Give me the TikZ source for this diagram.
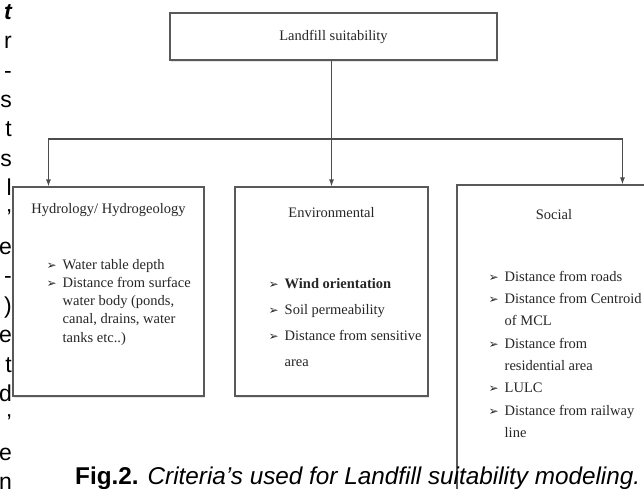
\documentclass[tikz,border=0pt]{standalone}
\usepackage{fontspec}
\setmainfont{Liberation Serif}
\newfontfamily\capfont{Liberation Sans}
\newfontfamily\symfont{DejaVu Sans}
\usetikzlibrary{arrows.meta,positioning,shadows}

\tikzset{
  box/.style={draw=black!65, line width=1.1pt, fill=white, inner sep=0pt,
              drop shadow={opacity=0.2, shadow xshift=1pt, shadow yshift=-1.5pt}},
  boxtext/.style={font=\fontsize{14.5}{20.5}\selectfont, text=black!85, inner sep=0pt},
  listtext/.style={font=\fontsize{14.5}{#1}\selectfont, text=black!85, inner sep=0pt, anchor=north west},
  arr/.style={draw=black!70, line width=1.1pt, -{Latex[length=7pt,width=5pt]}},
  sidetext/.style={font=\capfont\fontsize{23}{23}\selectfont, anchor=mid east, inner sep=0pt}
}
\newcommand{\bul}{{\symfont\fontsize{12}{12}\selectfont ➢}}

\begin{document}
\begin{tikzpicture}[x=1pt, y=-1pt]
  \clip (0,0) rectangle (644,488);
  \fill[white] (0,0) rectangle (644,488);

  % cut-off text of the page column on the left
  \node[sidetext] (s0) at (12,17) {\bfseries\itshape t};
  \foreach \c [count=\i] in {r,-,s,t,s,l,’,e,-,),e,t,d,’,e,n}
    \node[sidetext] (s\i) at (12,17+\i*29.4) {\c};

  % boxes
  \node[box, boxtext, minimum width=327pt, minimum height=47pt] (top) at (333.5,36.5) {Landfill suitability};
  \node[box, minimum width=191pt, minimum height=209pt] (hydro) at (108.5,291.5) {};
  \node[box, minimum width=193pt, minimum height=209pt] (env) at (331.5,291.5) {};
  \node[box, minimum width=260pt, minimum height=380pt] (social) at (587,375) {};

  % headings
  \node[boxtext, below=17pt of hydro.north] (hydrohead) {Hydrology/ Hydrogeology};
  \node[boxtext, below=21pt of env.north] (envhead) {Environmental};
  \node[boxtext] (sochead) at (554,215) {Social};

  % criteria lists
  \node[listtext=18.2] (hydrolist) at ([xshift=34pt, yshift=-70pt]hydro.north west) {%
    \begin{tabular}{@{}l@{\hspace{6pt}}l@{}}
      \bul & Water table depth\\
      \bul & Distance from surface\\
           & water body (ponds,\\
           & canal, drains, water\\
           & tanks etc..)
    \end{tabular}};
  \node[listtext=26] (envlist) at ([xshift=34pt, yshift=-84pt]env.north west) {%
    \begin{tabular}{@{}l@{\hspace{6pt}}l@{}}
      \bul & \textbf{Wind orientation}\\
      \bul & Soil permeability\\
      \bul & Distance from sensitive\\
           & area
    \end{tabular}};
  \node[listtext=22.3] (soclist) at ([xshift=32pt, yshift=-81pt]social.north west) {%
    \begin{tabular}{@{}l@{\hspace{6pt}}l@{}}
      \bul & Distance from roads\\
      \bul & Distance from Centroid\\
           & of MCL\\
      \bul & Distance from\\
           & residential area\\
      \bul & LULC\\
      \bul & Distance from railway\\
           & line
    \end{tabular}};

  % connectors
  \coordinate (split) at (top.south |- 0,139);
  \draw[arr] (top.south -| env.north) -- (env.north);
  \draw[arr] (split) -| ([xshift=36pt]hydro.north west);
  \draw[arr] (split) -| ([xshift=166pt]social.north west);

  % caption
  \node[font=\capfont\fontsize{24.3}{24.3}\selectfont, anchor=base west, inner sep=0pt] (caption) at (75,484)
    {\textbf{Fig.2.} \textit{Criteria’s used for Landfill suitability modeling.}};
\end{tikzpicture}
\end{document}
